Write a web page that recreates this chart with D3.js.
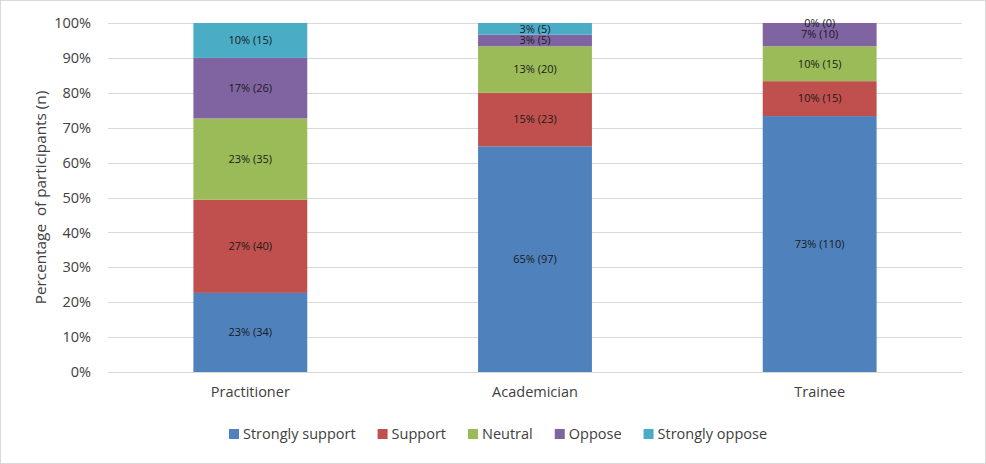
<!DOCTYPE html>
<html>
<head>
<meta charset="utf-8">
<script src="https://cdn.jsdelivr.net/npm/d3@7"></script>
<style>
  html, body { margin: 0; padding: 0; background: #fff; }
  svg { display: block; font-family: "Open Sans", "Noto Sans", sans-serif; }
</style>
</head>
<body>
<div id="chart"></div>
<script>
'use strict';

var categories = ['Practitioner', 'Academician', 'Trainee'];
var seriesNames = ['Strongly support', 'Support', 'Neutral', 'Oppose', 'Strongly oppose'];
var stronglySupport = [34, 97, 110];
var support = [40, 23, 15];
var neutral = [35, 20, 15];
var oppose = [26, 5, 10];
var stronglyOppose = [15, 5, 0];
var yTicks = [0, 10, 20, 30, 40, 50, 60, 70, 80, 90, 100];
var colors = ['#4F81BD', '#C0504D', '#9BBB59', '#8064A2', '#4BACC6'];

var w = 986, h = 464;
var margin = { top: 23, right: 24, bottom: 92, left: 108 };
var iw = w - margin.left - margin.right;
var ih = h - margin.top - margin.bottom;

var counts = [stronglySupport, support, neutral, oppose, stronglyOppose];
var rows = categories.map(function (cat, i) {
    var row = { category: cat };
    var total = 0;
    seriesNames.forEach(function (s, k) { total += counts[k][i]; });
    seriesNames.forEach(function (s, k) { row[s] = counts[k][i] / total * 100; row[s + '_n'] = counts[k][i]; });
    return row;
});

var stack = d3.stack().keys(seriesNames)(rows);

var svg = d3.select('#chart').append('svg').attr('width', w).attr('height', h);

svg.append('rect')
    .attr('x', 0.5).attr('y', 0.5)
    .attr('width', w - 1).attr('height', h - 1)
    .attr('fill', '#fff').attr('stroke', '#D9D9D9');

var g = svg.append('g').attr('transform', 'translate(' + margin.left + ',' + margin.top + ')');

var x = d3.scaleBand().domain(categories).range([0, iw]).paddingInner(0.6).paddingOuter(0.3);
var y = d3.scaleLinear().domain([0, 100]).range([ih, 0]);

// gridlines
g.selectAll('.grid')
    .data(yTicks)
    .enter().append('line')
    .attr('x1', 0).attr('x2', iw)
    .attr('y1', function (d) { return Math.round(y(d)) + 0.5; })
    .attr('y2', function (d) { return Math.round(y(d)) + 0.5; })
    .attr('stroke', '#D9D9D9');

var yAxis = g.append('g')
    .call(d3.axisLeft(y).tickValues(yTicks).tickSize(0).tickPadding(17).tickFormat(function (d) { return d + '%'; }));
yAxis.select('.domain').remove();
yAxis.selectAll('text').attr('font-size', 14.5).attr('fill', '#404040').attr('font-family', '"Open Sans", sans-serif');

var xAxis = g.append('g')
    .attr('transform', 'translate(0,' + ih + ')')
    .call(d3.axisBottom(x).tickSize(0).tickPadding(15));
xAxis.select('.domain').remove();
xAxis.selectAll('text').attr('font-size', 14.5).attr('fill', '#404040').attr('font-family', '"Open Sans", sans-serif');

var layers = g.selectAll('.layer')
    .data(stack)
    .enter().append('g')
    .attr('fill', function (d, i) { return colors[i]; });

layers.selectAll('rect')
    .data(function (d) { return d; })
    .enter().append('rect')
    .attr('x', function (d) { return x(d.data.category); })
    .attr('width', x.bandwidth())
    .attr('y', function (d) { return y(d[1]); })
    .attr('height', function (d) { return y(d[0]) - y(d[1]); });

layers.each(function (layer) {
    d3.select(this).selectAll('text')
        .data(layer)
        .enter().append('text')
        .attr('x', function (d) { return x(d.data.category) + x.bandwidth() / 2; })
        .attr('y', function (d) { return y((d[0] + d[1]) / 2); })
        .attr('dy', '0.35em')
        .attr('text-anchor', 'middle')
        .attr('font-size', 11)
        .attr('fill', '#1a1a1a')
        .text(function (d) {
            return Math.round(d[1] - d[0]) + '% (' + d.data[layer.key + '_n'] + ')';
        });
});

svg.append('text')
    .attr('transform', 'translate(41,' + (margin.top + ih / 2) + ') rotate(-90)')
    .attr('text-anchor', 'middle')
    .attr('dy', '0.35em')
    .attr('font-size', 15.3)
    .attr('fill', '#404040')
    .style('white-space', 'pre')
    .text('Percentage  of participants (n)');

// legend: laid out from measured text widths
var legend = svg.append('g').attr('transform', 'translate(229,434)');
var cursor = 0;
seriesNames.forEach(function (name, i) {
    var item = legend.append('g').attr('transform', 'translate(' + cursor + ',0)');
    item.append('rect')
        .attr('x', 0).attr('y', -5).attr('width', 10).attr('height', 10)
        .attr('fill', colors[i]);
    var t = item.append('text')
        .attr('x', 14).attr('y', 0).attr('dy', '0.35em')
        .attr('font-size', 14.5)
        .attr('fill', '#404040')
        .text(name);
    cursor += 14 + t.node().getComputedTextLength() + 22;
});
</script>
</body>
</html>
